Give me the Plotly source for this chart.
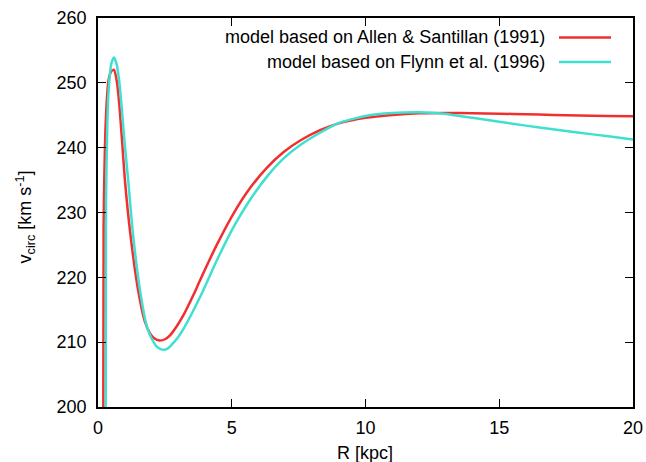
import plotly.graph_objects as go

# Allen & Santillan (1991) based model
r_as = [0.19, 0.21, 0.3, 0.4, 0.5, 0.6, 0.7, 0.8, 0.9, 1.0, 1.2, 1.5, 1.75, 1.95, 2.1, 2.3, 2.5, 2.7,
        2.95, 3.2, 3.57, 3.82, 4.44, 5.06, 5.69, 6.31, 6.93, 7.56, 8.3, 9.0, 10, 11, 12, 13, 14, 15, 16, 17,
        18, 19, 20]
v_as = [180, 228, 245, 250.5, 251.8, 252.0, 250.3, 246.5, 241, 235.3, 227, 218.0, 213.2, 211.3, 210.6,
        210.25, 210.45, 211.1, 212.5, 214.2, 217.3, 219.6, 225.0, 229.8, 233.8, 236.9, 239.3, 241.1, 242.7,
        243.75, 244.6, 245.05, 245.3, 245.35, 245.3, 245.25, 245.15, 245.05, 244.95, 244.9, 244.85]

# Flynn et al. (1996) based model
r_fl = [0.28, 0.3, 0.35, 0.4, 0.5, 0.6, 0.7, 0.8, 0.9, 1.0, 1.13, 1.3, 1.57, 1.82, 2.0, 2.2, 2.4, 2.6,
        2.8, 3.0, 3.19, 3.82, 4.44, 5.06, 5.69, 6.31, 6.93, 7.56, 8.3, 9.0, 10, 11, 12, 12.5, 13, 14, 15,
        16, 17, 18, 19, 20]
v_fl = [180, 232, 244, 249, 253, 253.9, 252.8, 250, 245.5, 240.5, 234.9, 227, 218, 212.5, 210.6, 209.3,
        208.85, 209.0, 209.8, 210.8, 212.0, 217.0, 222.6, 227.7, 232.0, 235.5, 238.3, 240.4, 242.3, 243.8,
        244.9, 245.35, 245.45, 245.4, 245.2, 244.6, 244.0, 243.4, 242.85, 242.3, 241.8, 241.25]

labels = ["model based on Allen &amp; Santillan (1991)", "model based on Flynn et al. (1996)"]
colors = ["#f03030", "#40e0d0"]

x_ticks = [0, 5, 10, 15, 20]
y_ticks = [200, 210, 220, 230, 240, 250, 260]

fig = go.Figure()
fig.add_trace(go.Scatter(x=r_as, y=v_as, mode="lines",
                         line=dict(color=colors[0], width=2.5, shape="spline", smoothing=0.6),
                         showlegend=False))
fig.add_trace(go.Scatter(x=r_fl, y=v_fl, mode="lines",
                         line=dict(color=colors[1], width=2.5, shape="spline", smoothing=0.6),
                         showlegend=False))

font = "Liberation Sans, Arial, sans-serif"
L, R, T, B = 98, 13, 17.5, 55.3
W, H = 646, 462
pw, ph = W - L - R, H - T - B


def px(x):
    return (x - L) / pw


def py(y):
    return 1 - (y - T) / ph


# legend drawn at the top right, text right-aligned, sample to the right
leg_y = [37, 61.5]
for lab, col, yy in zip(labels, colors, leg_y):
    fig.add_annotation(x=px(547), y=py(yy), xref="paper", yref="paper", text=lab, showarrow=False,
                       xanchor="right", yanchor="middle", font=dict(size=18, color="black", family=font))
    fig.add_shape(type="line", xref="paper", yref="paper", x0=px(559), x1=px(611), y0=py(yy), y1=py(yy),
                  line=dict(color=col, width=2.5))

# axis titles
fig.add_annotation(x=px(365), y=py(453), xref="paper", yref="paper", text="R [kpc]", showarrow=False,
                   xanchor="center", yanchor="middle", font=dict(size=18, color="black", family=font))
fig.add_annotation(x=px(25), y=py(217), xref="paper", yref="paper",
                   text="v<sub>circ</sub> [km s<sup>-1</sup>]", showarrow=False, textangle=-90,
                   xanchor="center", yanchor="middle", font=dict(size=18, color="black", family=font))

axis_common = dict(showline=True, linecolor="black", linewidth=1.5, mirror="ticks", ticks="inside",
                   ticklen=8, tickwidth=1.2, tickcolor="black", showgrid=False, zeroline=False,
                   automargin=False, tickfont=dict(size=18, color="black", family=font))

fig.update_layout(
    width=W, height=H, margin=dict(l=L, r=R, t=T, b=B),
    paper_bgcolor="white", plot_bgcolor="white",
    xaxis=dict(range=[0, 20], tickvals=x_ticks, ticklabelstandoff=4, **axis_common),
    yaxis=dict(range=[200, 260], tickvals=y_ticks, ticklabelstandoff=6, **axis_common),
)

fig.write_html("out.html")
